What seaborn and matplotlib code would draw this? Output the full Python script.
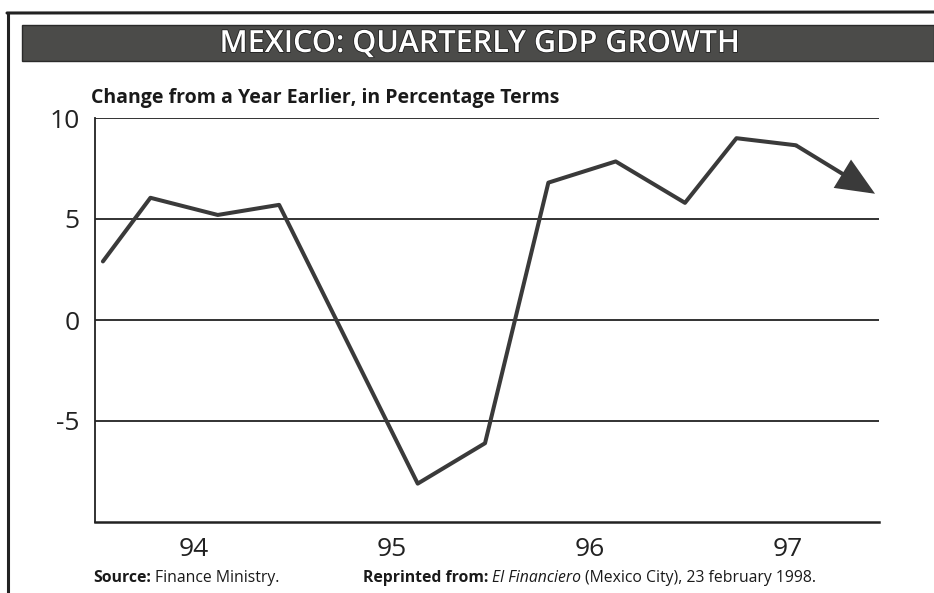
import matplotlib
matplotlib.use("Agg")
import matplotlib.pyplot as plt
import seaborn as sns
import pandas as pd
from matplotlib.patches import Rectangle
from matplotlib.lines import Line2D
import matplotlib.patheffects as pe

# ---- data ----
period = [1994.04, 1994.28, 1994.62, 1994.93, 1995.63, 1995.97,
          1996.29, 1996.63, 1996.98, 1997.24, 1997.54, 1997.94]
growth = [2.9, 6.05, 5.2, 5.7, -8.1, -6.1,
          6.8, 7.85, 5.8, 9.0, 8.65, 6.25]
year_ticks = [1994.5, 1995.5, 1996.5, 1997.5]
year_labels = ["94", "95", "96", "97"]
y_ticks = [-5, 0, 5, 10]
y_labels = ["-5", "0", "5", "10"]

title = "MEXICO: QUARTERLY GDP GROWTH"
subtitle = "Change from a Year Earlier, in Percentage Terms"

df = pd.DataFrame({"period": period, "growth": growth})

sns.set_theme(style="white")
plt.rcParams["font.family"] = ["Open Sans", "DejaVu Sans"]

fig = plt.figure(figsize=(9.34, 5.93), dpi=100)
W, H = 934, 593

def fx(px):
    return px / W

def fy(py):
    return 1 - py / H

ax = fig.add_axes([fx(95), fy(522), fx(879) - fx(95), fy(118) - fy(522)])

line_col = "#3a3a3a"
lw = 2.9
sns.lineplot(data=df.iloc[:-1], x="period", y="growth", ax=ax,
             color=line_col, linewidth=lw, zorder=3)
# last segment ends with an arrowhead
ax.annotate("", xy=(period[-1], growth[-1]), xytext=(period[-2], growth[-2]),
            arrowprops=dict(arrowstyle="-|>,head_length=1.5,head_width=0.65",
                            color=line_col, lw=lw, shrinkA=0, shrinkB=0,
                            mutation_scale=15, joinstyle="miter",
                            capstyle="butt"),
            zorder=4)

ax.set_xlim(1994.0, 1997.96)
ax.set_ylim(-10, 10)
for y in y_ticks:
    ax.axhline(y, color="#222222", lw=1.3, zorder=1)

for s in ["top", "right"]:
    ax.spines[s].set_visible(False)
ax.spines["left"].set_color("#222222")
ax.spines["left"].set_linewidth(1.3)
ax.spines["bottom"].set_color("#222222")
ax.spines["bottom"].set_linewidth(1.8)

ax.set_yticks(y_ticks)
ax.set_yticklabels(y_labels, fontsize=19, color="#222222")
ax.set_xticks(year_ticks)
ax.set_xticklabels(year_labels, fontsize=19, color="#222222")
ax.tick_params(axis="both", length=0)
ax.tick_params(axis="y", pad=11)
ax.tick_params(axis="x", pad=11)
ax.set_xlabel("")
ax.set_ylabel("")

# outer frame lines
fig.add_artist(Line2D([fx(7), 1.0], [fy(13), fy(12)], color="#222222", lw=2.2))
fig.add_artist(Line2D([fx(8), fx(8)], [fy(13), 0], color="#222222", lw=2.2))

# title bar
fig.add_artist(Rectangle((fx(22), fy(61)), 1 - fx(22), fy(25) - fy(61),
                         facecolor="#4b4b49", edgecolor="#2a2a2a", lw=1.0))
fig.text(fx(479), fy(44), title, color="white", fontsize=22,
         fontweight="semibold", ha="center", va="center",
         path_effects=[pe.withStroke(linewidth=1.2, foreground="#222222")])

fig.text(fx(91), fy(98), subtitle, fontsize=14, fontweight="bold",
         color="#1a1a1a", ha="left", va="center")

# footer
fs = 11.3
t1 = fig.text(fx(93), fy(578), "Source:", fontsize=fs, fontweight="bold",
              color="#1a1a1a", va="center")
fig.canvas.draw()
r = fig.canvas.get_renderer()
bb = t1.get_window_extent(r)
fig.text(bb.x1 / W + 0.004, fy(578), "Finance Ministry.", fontsize=fs,
         color="#1a1a1a", va="center")

t2 = fig.text(fx(363), fy(578), "Reprinted from:", fontsize=fs,
              fontweight="bold", color="#1a1a1a", va="center")
bb = t2.get_window_extent(r)
t3 = fig.text(bb.x1 / W + 0.004, fy(578), "El Financiero", fontsize=fs,
              fontstyle="italic", color="#1a1a1a", va="center")
bb = t3.get_window_extent(r)
fig.text(bb.x1 / W + 0.004, fy(578), "(Mexico City), 23 february 1998.",
         fontsize=fs, color="#1a1a1a", va="center")

fig.savefig("out.png", dpi=100, facecolor="white")
